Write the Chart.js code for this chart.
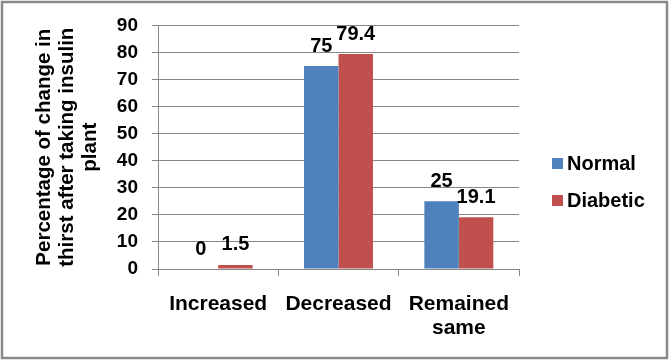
<!DOCTYPE html>
<html>
<head>
<meta charset="utf-8">
<script src="https://cdn.jsdelivr.net/npm/chart.js@4.4.0/dist/chart.umd.min.js"></script>
<style>
html,body{margin:0;padding:0;background:#fff;}
canvas{display:block;}
</style>
</head>
<body>
<canvas id="c" width="672" height="363"></canvas>
<script>
const categories = ['Increased', 'Decreased', ['Remained', 'same']];
const normalValues = [0, 75, 25];
const diabeticValues = [1.5, 79.4, 19.1];
const seriesNames = ['Normal', 'Diabetic'];
const yTicks = [0, 10, 20, 30, 40, 50, 60, 70, 80, 90];
const yTitle = ['Percentage of change in', 'thirst after taking insulin', 'plant'];

const FONT = '"Liberation Sans", Arial, sans-serif';
const GRID = '#868686';

const framePlugin = {
  id: 'frame',
  beforeDraw(chart) {
    const ctx = chart.ctx;
    ctx.save();
    ctx.fillStyle = '#fff';
    ctx.fillRect(0, 0, chart.width, chart.height);
    ctx.restore();
  },
  afterDraw(chart) {
    const ctx = chart.ctx;
    ctx.save();
    ctx.strokeStyle = '#8a8a8a';
    ctx.lineWidth = 2.5;
    ctx.strokeRect(2, 2, 665, 356);
    // legend
    ctx.font = 'bold 20px ' + FONT;
    ctx.textBaseline = 'middle';
    ctx.textAlign = 'left';
    const ys = [163, 200];
    chart.data.datasets.forEach((ds, i) => {
      ctx.fillStyle = ds.backgroundColor;
      ctx.fillRect(552, ys[i] - 5, 11, 11);
      ctx.fillStyle = '#000';
      ctx.fillText(ds.label, 567, ys[i] + 1);
    });
    ctx.restore();
  },
  afterDatasetsDraw(chart) {
    const ctx = chart.ctx;
    ctx.save();
    ctx.font = 'bold 20px ' + FONT;
    ctx.fillStyle = '#000';
    ctx.textAlign = 'center';
    ctx.textBaseline = 'middle';
    chart.data.datasets.forEach((ds, i) => {
      const meta = chart.getDatasetMeta(i);
      meta.data.forEach((el, j) => {
        ctx.fillText(String(ds.data[j]), el.x, el.y - 20);
      });
    });
    ctx.restore();
  }
};

new Chart(document.getElementById('c'), {
  type: 'bar',
  data: {
    labels: categories,
    datasets: [
      { label: seriesNames[0], data: normalValues, backgroundColor: '#4F81BD', categoryPercentage: 0.573, barPercentage: 1 },
      { label: seriesNames[1], data: diabeticValues, backgroundColor: '#C0504D', categoryPercentage: 0.573, barPercentage: 1 }
    ]
  },
  options: {
    responsive: false,
    animation: false,
    layout: { padding: { top: 25, right: 153, left: 0, bottom: 0 } },
    plugins: { legend: { display: false }, tooltip: { enabled: false } },
    scales: {
      x: {
        grid: { drawOnChartArea: false, drawTicks: true, tickLength: 7, color: GRID, offset: true },
        border: { display: true, color: GRID },
        ticks: { color: '#000', font: { family: FONT, size: 21, weight: 'bold', lineHeight: 1.15 }, padding: 16, maxRotation: 0, autoSkip: false },
        afterFit(scale) { scale.height = 94; }
      },
      y: {
        min: 0, max: 90,
        afterBuildTicks(scale) { scale.ticks = yTicks.map(v => ({ value: v })); },
        grid: { color: GRID, tickLength: 6, drawTicks: true },
        border: { display: true, color: GRID },
        ticks: { color: '#000', font: { family: FONT, size: 19, weight: 'bold' }, padding: 14 },
        title: { display: true, text: yTitle, color: '#000', font: { family: FONT, size: 20.5, weight: 'bold', lineHeight: 1.12 }, padding: { top: 33, bottom: 0 } },
        afterFit(scale) { scale.width = 158; }
      }
    }
  },
  plugins: [framePlugin]
});
</script>
</body>
</html>
